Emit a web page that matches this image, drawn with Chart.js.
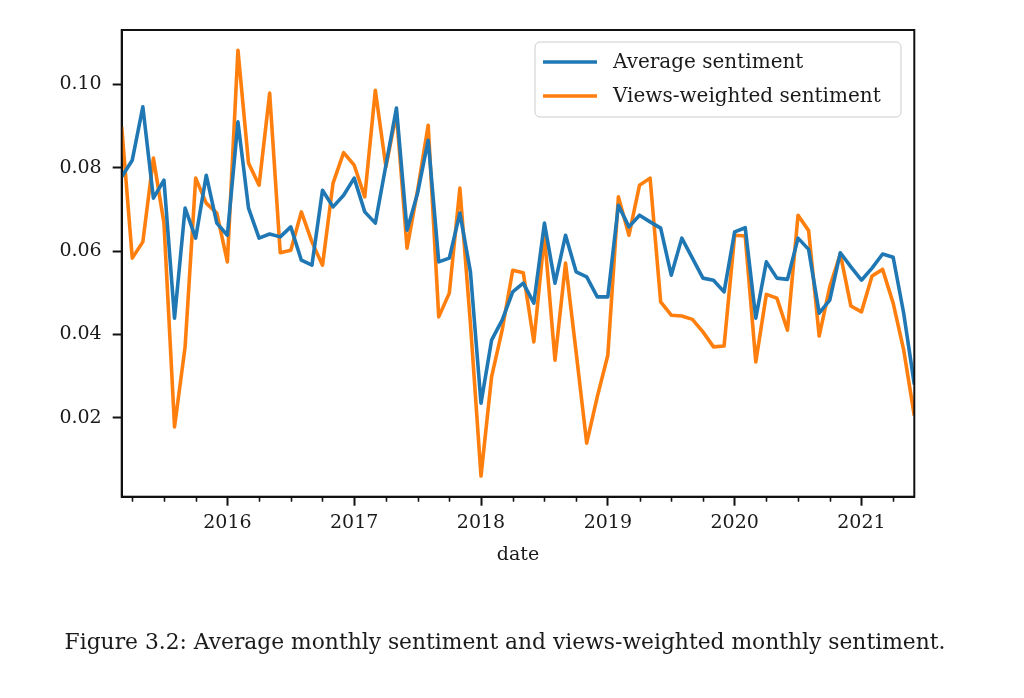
<!DOCTYPE html>
<html>
<head>
<meta charset="utf-8">
<script src="https://cdn.jsdelivr.net/npm/chart.js@4/dist/chart.umd.min.js"></script>
<style>
  html, body { margin: 0; padding: 0; background: #fff; }
  #wrap { position: relative; width: 1024px; height: 698px; overflow: hidden; }
  #c { position: absolute; left: 0; top: 0; }
  #caption { position: absolute; left: 0; width: 1010px; top: 629px; text-align: center;
    font-family: 'DejaVu Serif', serif; font-size: 21.8px; color: #1a1a1a; white-space: nowrap; }
</style>
</head>
<body>
<div id="wrap">
  <canvas id="c" width="1024" height="698"></canvas>
  <div id="caption">Figure 3.2: Average monthly sentiment and views-weighted monthly sentiment.</div>
</div>
<script>
// Months 2015-03 .. 2021-06 (index = position on x axis)
const months = [
  '2015-03','2015-04','2015-05','2015-06','2015-07','2015-08','2015-09','2015-10','2015-11','2015-12',
  '2016-01','2016-02','2016-03','2016-04','2016-05','2016-06','2016-07','2016-08','2016-09','2016-10','2016-11','2016-12',
  '2017-01','2017-02','2017-03','2017-04','2017-05','2017-06','2017-07','2017-08','2017-09','2017-10','2017-11','2017-12',
  '2018-01','2018-02','2018-03','2018-04','2018-05','2018-06','2018-07','2018-08','2018-09','2018-10','2018-11','2018-12',
  '2019-01','2019-02','2019-03','2019-04','2019-05','2019-06','2019-07','2019-08','2019-09','2019-10','2019-11','2019-12',
  '2020-01','2020-02','2020-03','2020-04','2020-05','2020-06','2020-07','2020-08','2020-09','2020-10','2020-11','2020-12',
  '2021-01','2021-02','2021-03','2021-04','2021-05','2021-06'
];
const averageSentiment = [
  0.0778, 0.0818, 0.0946, 0.0727, 0.0770, 0.0439, 0.0703, 0.0631, 0.0782, 0.0667,
  0.0638, 0.0910, 0.0703, 0.0631, 0.0641, 0.0634, 0.0658, 0.0578, 0.0566, 0.0746,
  0.0706, 0.0734, 0.0775, 0.0694, 0.0667, 0.0806, 0.0943, 0.0650, 0.0739, 0.0866,
  0.0574, 0.0583, 0.0691, 0.0550, 0.0235, 0.0386, 0.0434, 0.0502, 0.0523, 0.0475,
  0.0667, 0.0523, 0.0638, 0.0550, 0.0538, 0.0490, 0.0490, 0.0710, 0.0658, 0.0686,
  0.0670, 0.0655, 0.0542, 0.0631, 0.0583, 0.0535, 0.0530, 0.0502, 0.0646, 0.0656,
  0.0439, 0.0574, 0.0535, 0.0532, 0.0631, 0.0604, 0.0451, 0.0482, 0.0596, 0.0562,
  0.0530, 0.0559, 0.0593, 0.0585, 0.0450, 0.0280
];
const viewsWeightedSentiment = [
  0.0898, 0.0583, 0.0622, 0.0823, 0.0667, 0.0178, 0.0370, 0.0775, 0.0715, 0.0691,
  0.0574, 0.1082, 0.0811, 0.0758, 0.0979, 0.0596, 0.0602, 0.0694, 0.0622, 0.0566,
  0.0763, 0.0836, 0.0806, 0.0730, 0.0986, 0.0802, 0.0931, 0.0607, 0.0746, 0.0902,
  0.0442, 0.0499, 0.0751, 0.0425, 0.0060, 0.0298, 0.0410, 0.0554, 0.0548, 0.0382,
  0.0638, 0.0338, 0.0571, 0.0357, 0.0139, 0.0250, 0.0350, 0.0730, 0.0638, 0.0758,
  0.0775, 0.0478, 0.0446, 0.0444, 0.0436, 0.0406, 0.0370, 0.0372, 0.0638, 0.0636,
  0.0334, 0.0496, 0.0487, 0.0410, 0.0686, 0.0649, 0.0396, 0.0514, 0.0593, 0.0468,
  0.0454, 0.0540, 0.0556, 0.0475, 0.0362, 0.0205
];
const yTickValues = [0.02, 0.04, 0.06, 0.08, 0.10];
const yearTickLabels = ['2016', '2017', '2018', '2019', '2020', '2021'];
const seriesLabels = ['Average sentiment', 'Views-weighted sentiment'];

const FONT = 'DejaVu Serif';
const TEXT = '#1a1a1a';
const yearIndex = y => months.indexOf(y + '-01');
const quarterIndices = months.map((m, i) => i).filter(i => ['04','07','10'].includes(months[i].slice(5)));

const frame = {
  id: 'frame',
  afterDraw(chart) {
    const {ctx, chartArea: a, scales: {x}} = chart;
    ctx.save();
    ctx.strokeStyle = '#111';
    ctx.lineWidth = 2;
    ctx.strokeRect(a.left, a.top, a.right - a.left, a.bottom - a.top);
    // minor quarterly ticks
    ctx.lineWidth = 1.6;
    quarterIndices.forEach(i => {
      const px = Math.round(x.getPixelForValue(i)) + 0.5;
      ctx.beginPath(); ctx.moveTo(px, a.bottom); ctx.lineTo(px, a.bottom + 5); ctx.stroke();
    });
    // legend
    const lx = 535, ly = 42, lw = 366, lh = 75, r = 5;
    ctx.beginPath();
    ctx.moveTo(lx + r, ly); ctx.lineTo(lx + lw - r, ly); ctx.arcTo(lx + lw, ly, lx + lw, ly + r, r);
    ctx.lineTo(lx + lw, ly + lh - r); ctx.arcTo(lx + lw, ly + lh, lx + lw - r, ly + lh, r);
    ctx.lineTo(lx + r, ly + lh); ctx.arcTo(lx, ly + lh, lx, ly + lh - r, r);
    ctx.lineTo(lx, ly + r); ctx.arcTo(lx, ly, lx + r, ly, r); ctx.closePath();
    ctx.fillStyle = 'rgba(255,255,255,0.8)'; ctx.fill();
    ctx.strokeStyle = '#cccccc'; ctx.lineWidth = 1; ctx.stroke();
    ctx.font = '20px "' + FONT + '"';
    ctx.textBaseline = 'middle';
    ctx.fillStyle = TEXT;
    chart.data.datasets.forEach((ds, k) => {
      const yy = 62 + k * 34;
      ctx.strokeStyle = ds.borderColor; ctx.lineWidth = 3.6; ctx.lineCap = 'butt';
      ctx.beginPath(); ctx.moveTo(543, yy); ctx.lineTo(597, yy); ctx.stroke();
      ctx.fillText(ds.label, 613, yy + 1);
    });
    ctx.restore();
  }
};

new Chart(document.getElementById('c'), {
  type: 'line',
  data: {
    datasets: [
      { label: seriesLabels[0], data: averageSentiment.map((v, i) => ({x: i, y: v})),
        borderColor: '#1f77b4', borderWidth: 3.6, pointRadius: 0, tension: 0, borderJoinStyle: 'round' },
      { label: seriesLabels[1], data: viewsWeightedSentiment.map((v, i) => ({x: i, y: v})),
        borderColor: '#ff7f0e', borderWidth: 3.6, pointRadius: 0, tension: 0, borderJoinStyle: 'round' }
    ]
  },
  options: {
    responsive: false,
    animation: false,
    events: [],
    layout: { padding: { left: 0, top: 30, right: 109.7, bottom: 121.3 } },
    plugins: { legend: { display: false }, tooltip: { enabled: false } },
    scales: {
      x: {
        type: 'linear', min: 0, max: months.length - 1,
        afterFit(s) { s.height = 80; },
        afterBuildTicks(s) { s.ticks = yearTickLabels.map(y => ({value: yearIndex(y)})); },
        ticks: { callback: v => months[v].slice(0, 4), color: TEXT, font: {family: FONT, size: 19}, padding: 6, maxRotation: 0, autoSkip: false },
        grid: { drawOnChartArea: false, tickLength: 9, tickWidth: 2, tickColor: '#111' },
        border: { display: true, color: '#111', width: 2 },
        title: { display: true, text: 'date', color: TEXT, font: {family: FONT, size: 19}, padding: {top: 0, bottom: 10} }
      },
      y: {
        min: 0.00104, max: 0.11305,
        afterFit(s) { s.width = 121.7; },
        afterBuildTicks(s) { s.ticks = yTickValues.map(v => ({value: v})); },
        ticks: { callback: v => v.toFixed(2), color: TEXT, font: {family: FONT, size: 19}, padding: 11 },
        grid: { drawOnChartArea: false, tickLength: 9, tickWidth: 2, tickColor: '#111' },
        border: { display: true, color: '#111', width: 2 }
      }
    }
  },
  plugins: [frame]
});
</script>
</body>
</html>
